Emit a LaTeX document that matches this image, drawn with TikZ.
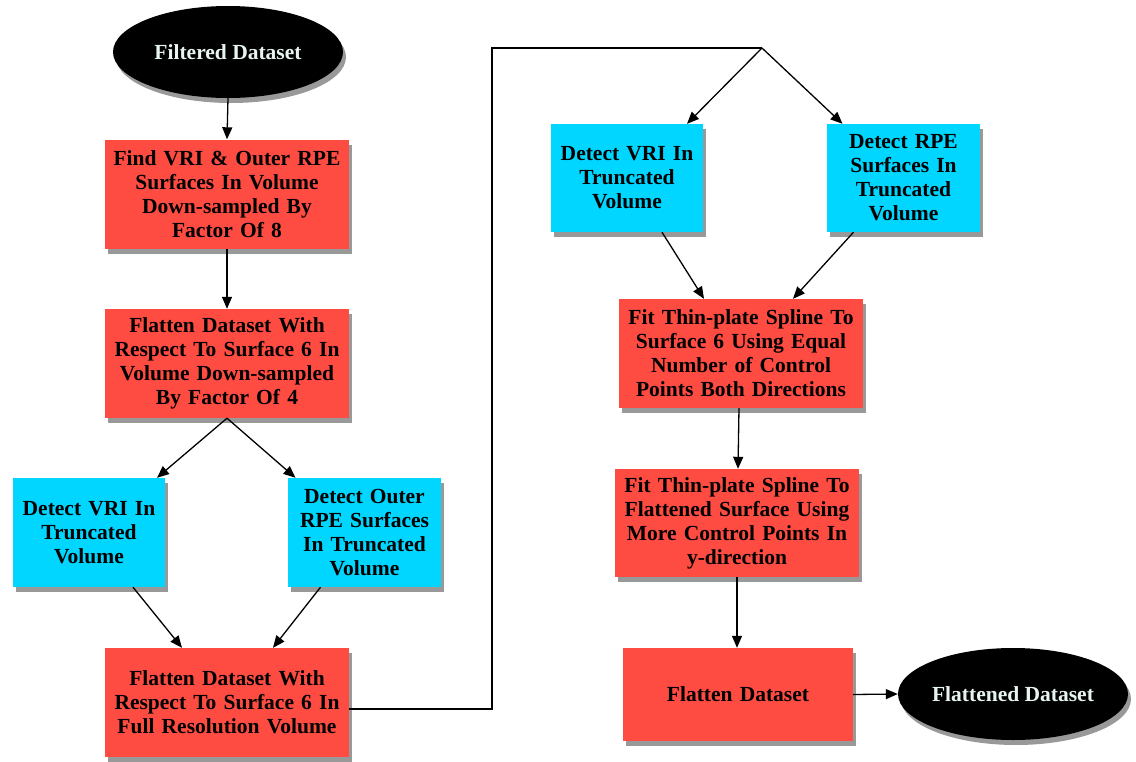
\documentclass[tikz,border=0pt]{standalone}
\usepackage{fontspec}
\setmainfont{Liberation Serif}
\usetikzlibrary{shapes.geometric,arrows.meta,shadows}
\definecolor{boxred}{RGB}{255,76,66}
\definecolor{boxcyan}{RGB}{0,214,255}
\definecolor{elltext}{RGB}{232,244,240}
\begin{document}
\begin{tikzpicture}[x=1pt,y=-1pt,
  every node/.style={font=\fontsize{21.5}{24}\selectfont\bfseries, align=center, inner sep=0pt},
  shad/.style={drop shadow={shadow xshift=3pt,shadow yshift=-5pt,opacity=0.4,fill=black}},
  redbox/.style={rectangle, fill=boxred, shad, minimum width=244pt, minimum height=109pt, text width=242pt},
  cyanbox/.style={rectangle, fill=boxcyan, shad, minimum width=152pt, minimum height=109pt, text width=150pt},
  term/.style={ellipse, fill=black, shad, minimum width=230pt, minimum height=92pt, text=elltext},
  conn/.style={draw=black, line width=1.3pt},
  arr/.style={conn, -{Triangle[length=12pt,width=10pt]}}
]
\useasboundingbox (0,0) rectangle (1136,761);

\node[term] (ell1) at (228,52) {Filtered Dataset};
\node[redbox] (red1) at (227,194) {Find VRI \& Outer RPE\\Surfaces In Volume\\Down-sampled By\\Factor Of 8};
\node[redbox] (red2) at (227,363.5) {Flatten Dataset With\\Respect To Surface 6 In\\Volume Down-sampled\\By Factor Of 4};
\node[cyanbox] (cyan1) at (89,532.5) {Detect VRI In\\Truncated\\Volume};
\node[cyanbox, minimum width=153pt] (cyan2) at (364.5,532.5) {Detect Outer\\RPE Surfaces\\In Truncated\\Volume};
\node[redbox] (red3) at (227,702.5) {Flatten Dataset With\\Respect To Surface 6 In\\Full Resolution Volume};

\node[cyanbox, minimum height=108pt] (cyan3) at (627,178) {Detect VRI In\\Truncated\\Volume};
\node[cyanbox, minimum width=153pt, minimum height=108pt] (cyan4) at (903.5,178) {Detect RPE\\Surfaces In\\Truncated\\Volume};
\node[redbox] (red4) at (741,353.5) {Fit Thin-plate Spline To\\Surface 6 Using Equal\\Number of Control\\Points Both Directions};
\node[redbox, minimum height=108pt] (red5) at (737,523) {Fit Thin-plate Spline To\\Flattened Surface Using\\More Control Points In\\y-direction};
\node[redbox, minimum width=230pt, text width=228pt, minimum height=93pt] (red6) at (738,694.5) {Flatten Dataset};
\node[term] (ell2) at (1013,694) {Flattened Dataset};

\coordinate (branch) at (762,48);
\coordinate (turn) at (492,709);

\draw[arr] (ell1.south) -- (red1.north);
\draw[arr] (red1.south) -- (red2.north);
\draw[arr] (red2.south) -- ([xshift=68pt]cyan1.north);
\draw[arr] (red2.south) -- ([xshift=-69pt]cyan2.north);
\draw[arr] ([xshift=44pt]cyan1.south) -- ([xshift=-45pt]red3.north);
\draw[arr] ([xshift=-44pt]cyan2.south) -- ([xshift=46pt]red3.north);
\draw[conn] ([yshift=-6.5pt]red3.east) -- (turn) |- (branch);
\draw[arr] (branch) -- ([xshift=60pt]cyan3.north);
\draw[arr] (branch) -- ([xshift=-61pt]cyan4.north);
\draw[arr] ([xshift=35pt]cyan3.south) -- ([xshift=-37pt]red4.north);
\draw[arr] ([xshift=-50pt]cyan4.south) -- ([xshift=52pt]red4.north);
\draw[arr] ([xshift=-2pt]red4.south) -- ([xshift=1pt]red5.north);
\draw[arr] (red5.south) -- ([xshift=-1pt]red6.north);
\draw[arr] (red6.east) -- (ell2.west);
\end{tikzpicture}
\end{document}
